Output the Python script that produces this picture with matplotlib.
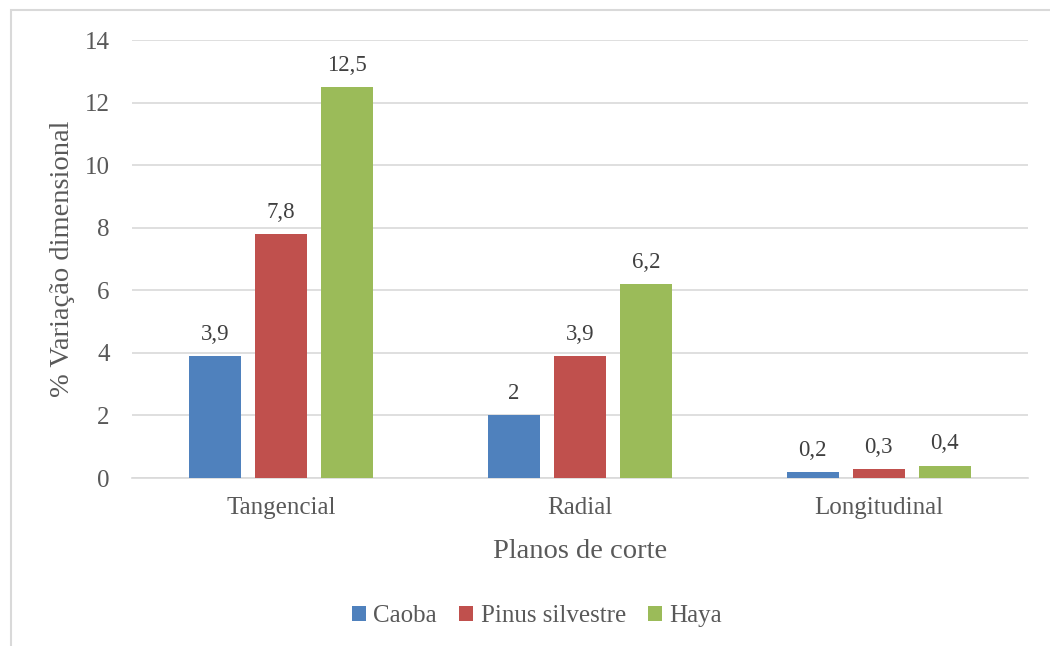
import numpy as np
import matplotlib.pyplot as plt
from matplotlib.patches import Rectangle

# Variação dimensional por plano de corte
planos = ['Tangencial', 'Radial', 'Longitudinal']
especies = ['Caoba', 'Pinus silvestre', 'Haya']
caoba = [3.9, 2.0, 0.2]
pinus = [7.8, 3.9, 0.3]
haya = [12.5, 6.2, 0.4]
cores = ['#4F81BD', '#C0504D', '#9BBB59']

plt.rcParams['font.family'] = ['Liberation Serif', 'DejaVu Serif']
cinza = '#595959'

fig = plt.figure(figsize=(10.5, 6.46), dpi=100)
ax = fig.add_axes([0.1257, 0.26, 0.8533, 0.678])

# moldura do gráfico (só aparecem topo e esquerda)
fig.patches.append(Rectangle((11 / 1050, -0.1), 1.2, 1 - 10 / 646 + 0.1,
                             transform=fig.transFigure, fill=False,
                             edgecolor='#D9D9D9', linewidth=1.5))

x = np.arange(len(planos))
larg = 0.174
passo = 0.221
for i, (serie, cor, nome) in enumerate(zip([caoba, pinus, haya], cores, especies)):
    barras = ax.bar(x + (i - 1) * passo, serie, larg, color=cor, label=nome, zorder=3)
    rotulos = [f'{v:g}'.replace('.', ',') for v in serie]
    ax.bar_label(barras, labels=rotulos, padding=8, fontsize=16.5, color='#404040')

ax.set_xlim(-0.5, 2.5)
ax.set_ylim(0, 14)
ax.set_yticks(range(0, 15, 2))
ax.set_xticks(x)
ax.set_xticklabels(planos)
ax.tick_params(axis='both', length=0, labelsize=18, labelcolor=cinza)
ax.tick_params(axis='y', pad=16)
ax.tick_params(axis='x', pad=14)
ax.grid(axis='y', color='#D9D9D9', linewidth=1.2, zorder=0)
for lado in ['top', 'right', 'left']:
    ax.spines[lado].set_visible(False)
ax.spines['bottom'].set_color('#D9D9D9')
ax.spines['bottom'].set_linewidth(1.2)

ax.set_xlabel('Planos de corte', fontsize=20.5, color=cinza, labelpad=14)
ax.set_ylabel('% Variação dimensional', fontsize=20.5, color=cinza, labelpad=7)

fig.legend(loc='center', bbox_to_anchor=(0.5115, 1 - 616 / 646), ncol=3, frameon=False,
           fontsize=18, labelcolor=cinza, handlelength=0.55, handleheight=0.55,
           handletextpad=0.3, columnspacing=0.9)

fig.savefig('out.png', dpi=100)
